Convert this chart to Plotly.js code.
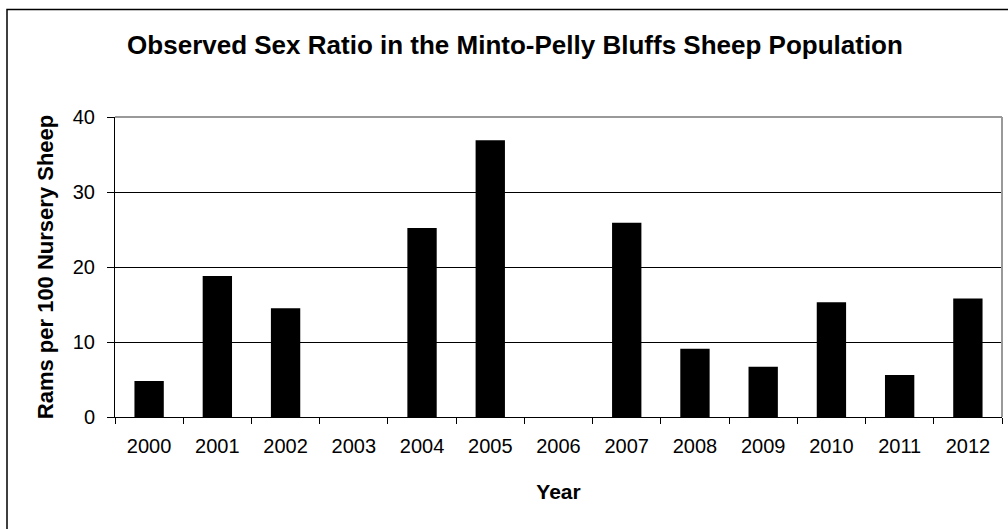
<!DOCTYPE html>
<html>
<head>
<meta charset="utf-8">
<script src="https://cdn.plot.ly/plotly-3.0.1.min.js"></script>
<style>html,body{margin:0;padding:0;background:#fff;}#chart{width:1008px;height:529px;}</style>
</head>
<body>
<div id="chart"></div>
<script>
const years = ['2000','2001','2002','2003','2004','2005','2006','2007','2008','2009','2010','2011','2012'];
const ramsPer100 = [4.8, 18.8, 14.5, 0, 25.2, 36.9, 0, 25.9, 9.1, 6.7, 15.3, 5.6, 15.8];
const yTicks = [0, 10, 20, 30, 40];

const W = 1008, H = 529;
const L = 115, R = 6, T = 117, B = 112;
const pw = W - L - R, ph = H - T - B;
const px = v => (v - L) / pw;
const py = v => (H - B - v) / ph;

const trace = {
  type: 'bar',
  x: years,
  y: ramsPer100,
  marker: {color: '#000000', line: {color: '#000000', width: 0}},
  width: 0.43,
  hoverinfo: 'x+y'
};

const font = 'Arial, "Liberation Sans", sans-serif';

const layout = {
  width: W, height: H,
  margin: {l: L, r: R, t: T, b: B, pad: 0},
  paper_bgcolor: '#ffffff',
  plot_bgcolor: '#ffffff',
  showlegend: false,
  font: {family: font, color: '#000000', size: 20},
  title: {
    text: '<b>Observed Sex Ratio in the Minto-Pelly Bluffs Sheep Population</b>',
    font: {family: font, size: 26, color: '#000000'},
    xref: 'container', yref: 'container',
    x: 515 / W, xanchor: 'center',
    y: 1 - 45 / H, yanchor: 'middle'
  },
  xaxis: {
    type: 'category',
    tickson: 'boundaries',
    ticks: 'outside', ticklen: 6, tickcolor: '#000000', tickwidth: 1,
    ticklabelstandoff: 11,
    showline: true, linecolor: '#000000', linewidth: 1,
    showgrid: false, zeroline: false,
    tickfont: {family: font, size: 20, color: '#000000'},
    title: {text: '<b>Year</b>', font: {family: font, size: 21, color: '#000000'}, standoff: 28},
    automargin: false
  },
  yaxis: {
    range: [0, 40],
    tickvals: yTicks,
    ticktext: yTicks.map(String),
    ticks: 'outside', ticklen: 7, tickcolor: '#000000', tickwidth: 1,
    ticklabelstandoff: 8,
    showline: true, linecolor: '#000000', linewidth: 1,
    showgrid: true, gridcolor: '#000000', gridwidth: 1,
    zeroline: false,
    tickfont: {family: font, size: 20, color: '#000000'},
    title: {text: '<b>Rams per 100 Nursery Sheep</b>', font: {family: font, size: 22, color: '#000000'}, standoff: 13},
    automargin: false
  },
  shapes: [
    {type: 'line', xref: 'paper', yref: 'paper', x0: 0, x1: 1, y0: 1, y1: 1, line: {color: '#999999', width: 2}},
    {type: 'line', xref: 'paper', yref: 'paper', x0: 1, x1: 1, y0: 0, y1: 1, line: {color: '#999999', width: 2}},
    {type: 'rect', xref: 'paper', yref: 'paper', x0: px(7), x1: px(1020), y0: py(540), y1: py(9.5), line: {color: '#000000', width: 1.5}, fillcolor: 'rgba(0,0,0,0)', layer: 'below'}
  ]
};

Plotly.newPlot('chart', [trace], layout, {displayModeBar: false, staticPlot: true});
</script>
</body>
</html>
